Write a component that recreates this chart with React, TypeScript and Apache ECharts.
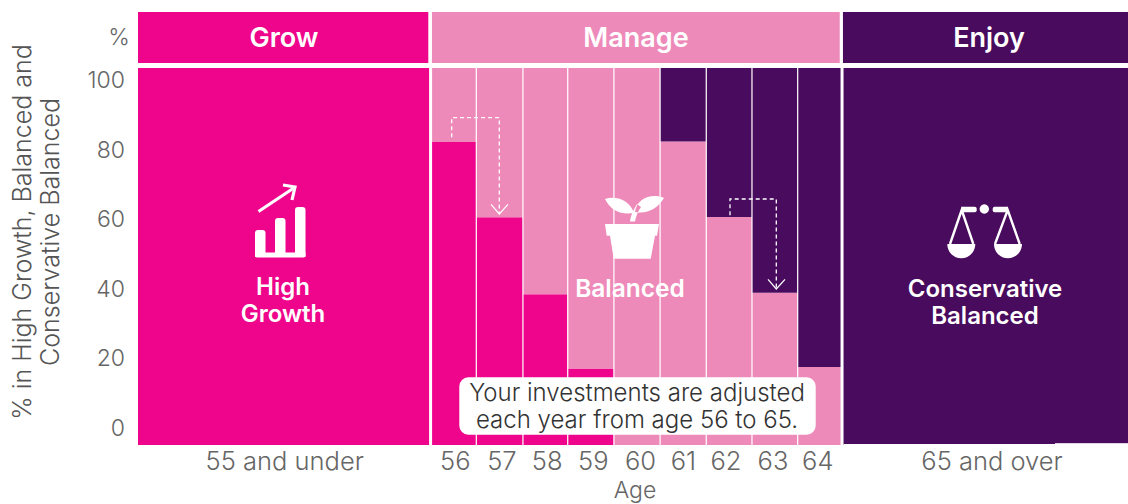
import React, { useEffect, useRef } from "react";
import * as echarts from "echarts";

const categories = ["55 and under", "56", "57", "58", "59", "60", "61", "62", "63", "64", "65 and over"];
const categoryEdges = [49.6, 56, 57, 58.02, 59, 60.01, 61.02, 62.03, 63.03, 64.03, 65, 71.255];
const highGrowth = [100, 80.4, 60.4, 40, 20.3, 0, 0, 0, 0, 0, 0];
const balanced = [0, 19.6, 39.6, 60, 79.7, 100, 80.5, 60.5, 40.4, 20.7, 0];
const conservativeBalanced = [0, 0, 0, 0, 0, 0, 19.5, 39.5, 59.6, 79.3, 100];
const labelCentres = [52.81, 56.54, 57.56, 58.55, 59.56, 60.59, 61.53, 62.46, 63.49, 64.47, 68.28];
const yTicks = [0, 20, 40, 60, 80, 100];
const phases = ["Grow", "Manage", "Enjoy"];
const phaseStarts = [49.6, 56.03, 65.02];
const phaseEnds = [55.95, 64.95, 71.255];

const MAGENTA = "#EE058B";
const PINK = "#EE8AB9";
const PURPLE = "#490B5D";
const GREY = "#666666";
const FONT = "Inter";

const leafPath =
  "M605 199 C617 195 630 201 634 213 C621 215 611 211 605 199 Z " +
  "M664 198 C652 193 637 198 635 212 C648 214 657 209 664 198 Z " +
  "M630 221.5 C631 214 634 209 637 204 L641 207 C638 211 636 216 635 221.5 Z";
const bowlPath =
  "M947.3 244 L975.3 244 C975.3 252 969 258.3 961.3 258.3 C953.6 258.3 947.3 252 947.3 244 Z " +
  "M994 244 L1022 244 C1022 252 1015.7 258.3 1008 258.3 C1000.3 258.3 994 252 994 244 Z";
echarts.graphic.registerShape("leaves", echarts.graphic.extendPath(leafPath, {}));
echarts.graphic.registerShape("bowls", echarts.graphic.extendPath(bowlPath, {}));

function stackSeries(name: string, values: number[], below: number[], color: string) {
  return {
    name,
    type: "custom",
    xAxisIndex: 0,
    yAxisIndex: 0,
    z: 2,
    silent: true,
    data: categories.map((_, i) => [categoryEdges[i], categoryEdges[i + 1], below[i], below[i] + values[i]]),
    encode: { x: [0, 1], y: [2, 3] },
    renderItem: (_: any, api: any) => {
      const a = api.coord([api.value(0), api.value(3)]);
      const b = api.coord([api.value(1), api.value(2)]);
      return { type: "rect", shape: { x: a[0], y: a[1], width: b[0] - a[0], height: b[1] - a[1] }, style: { fill: color } };
    },
  };
}

const zeros = categories.map(() => 0);
const afterGrowth = highGrowth.map((v, i) => v + balanced[i]);

const separatorSeries = {
  type: "custom",
  xAxisIndex: 0,
  yAxisIndex: 0,
  z: 3,
  silent: true,
  data: categoryEdges.slice(1, -1).map((e, i, all) => [e, i === 0 || i === all.length - 1 ? 3 : 1.2]),
  encode: { x: 0 },
  renderItem: (_: any, api: any) => {
    const t = api.coord([api.value(0), 100]);
    const b = api.coord([api.value(0), 0]);
    return { type: "line", shape: { x1: t[0], y1: t[1], x2: b[0], y2: b[1] }, style: { stroke: "#ffffff", lineWidth: api.value(1) } };
  },
};

const phaseSeries = {
  type: "custom",
  xAxisIndex: 2,
  yAxisIndex: 2,
  silent: true,
  data: phases.map((_, i) => [phaseStarts[i], phaseEnds[i], i]),
  encode: { x: [0, 1] },
  renderItem: (_: any, api: any) => {
    const i = api.value(2);
    const a = api.coord([api.value(0), 1]);
    const b = api.coord([api.value(1), 0]);
    const colors = [MAGENTA, PINK, PURPLE];
    const mids = [284, 636, 989];
    return {
      type: "group",
      children: [
        { type: "rect", shape: { x: a[0], y: a[1], width: b[0] - a[0], height: b[1] - a[1] }, style: { fill: colors[i] } },
        {
          type: "text",
          x: mids[i],
          y: (a[1] + b[1]) / 2,
          style: { text: phases[i], fill: "#ffffff", fontFamily: FONT, fontWeight: 600, fontSize: 27, align: "center", verticalAlign: "middle" },
        },
      ],
    };
  },
};

const label = (text: string, x: number, y: number, fontSize: number, lineHeight: number, fill = "#ffffff", fontWeight = 600, rotation = 0) => ({
  type: "text",
  z: 30,
  x,
  y,
  rotation,
  style: { text, fill, fontFamily: FONT, fontSize, fontWeight, lineHeight, align: "center", verticalAlign: "middle" },
});
const rrect = (x: number, y: number, width: number, height: number, r: any = 0, fill = "#ffffff", z = 20) => ({
  type: "rect",
  z,
  shape: { x, y, width, height, r },
  style: { fill },
});
const stroke = (points: number[][], lineWidth: number, lineDash?: number[], opacity = 1) => ({
  type: "polyline",
  z: 20,
  shape: { points },
  style: { stroke: "#ffffff", fill: "none", lineWidth, lineDash, opacity },
});
const poly = (points: number[][]) => ({ type: "polygon", z: 20, shape: { points }, style: { fill: "#ffffff" } });

const graphics = [
  label("%", 119, 37, 23, 26, GREY, 300),
  label("% in High Growth, Balanced and\nConservative Balanced", 36, 232, 25, 28, "#555555", 300, Math.PI / 2),

  // growth icon
  rrect(255, 230, 10.5, 27, [3, 3, 0, 0]),
  rrect(275, 218, 10.5, 39, [3, 3, 0, 0]),
  rrect(295, 207, 10.5, 50, [3, 3, 0, 0]),
  rrect(255, 252.5, 50.5, 5, [0, 0, 2, 2]),
  stroke([[258.5, 211.5], [293, 188.5]], 3.2),
  stroke([[283, 185], [295, 187], [292, 200]], 3.2),
  label("High\nGrowth", 283, 300, 24, 27),

  // plant icon
  { type: "leaves", z: 20, style: { fill: "#ffffff" } },
  poly([[605, 224], [659, 224], [657, 235.7], [655, 235.7], [650.7, 258.7], [613.7, 258.7], [610, 235.7], [606.7, 235.7]]),
  label("Balanced", 630, 288, 24.5, 26),

  // scales icon
  { type: "circle", z: 20, shape: { cx: 984.3, cy: 209, r: 4.7 }, style: { fill: "#ffffff" } },
  rrect(961.7, 206.7, 15, 5.6, [0, 2, 2, 0]),
  rrect(992.7, 206.7, 15.3, 5.6, [2, 0, 0, 2]),
  stroke([[950, 244], [961.7, 210], [973.3, 244]], 2.4),
  stroke([[995, 244], [1007.7, 210], [1019.7, 244]], 2.4),
  { type: "bowls", z: 20, style: { fill: "#ffffff" } },
  label("Conservative\nBalanced", 985, 302, 24, 27),

  // dashed arrows
  stroke([[451.7, 137.3], [451.7, 117.7], [499.3, 117.7], [499.3, 213]], 1.3, [4, 3]),
  stroke([[491, 204.3], [499.3, 214], [508, 204.3]], 1.2),
  stroke([[730, 215.3], [730, 199], [776.3, 199], [776.3, 288]], 1.3, [4, 3]),
  stroke([[768, 279.3], [776.3, 289], [785, 279.3]], 1.2),

  // note
  rrect(459.3, 377.3, 356.4, 57.4, 9, "#ffffff", 25),
  label("Your investments are adjusted\neach year from age 56 to 65.", 637, 406, 24, 27, "#333333", 300),

  // the last band stops a pixel short of the baseline
  rrect(843.5, 444, 284.5, 1.2, 0, "#ffffff", 20),
  rrect(1055, 443, 73, 1, 0, "#E4D3E8", 20),
];

export default function App() {
  const ref = useRef<HTMLDivElement>(null);
  useEffect(() => {
    const chart = echarts.init(ref.current!, undefined, { renderer: "svg" });
    const hiddenX = { type: "value", min: categoryEdges[0], max: categoryEdges[categoryEdges.length - 1], show: false };
    const gridBase = { left: 138, right: 0, outerBoundsMode: "none", containLabel: false };
    chart.setOption({
      animation: false,
      grid: [
        { ...gridBase, top: 68, height: 377 },
        { ...gridBase, top: 80, height: 348 },
        { ...gridBase, top: 12, height: 51 },
      ],
      xAxis: [
        {
          type: "value",
          gridIndex: 0,
          min: categoryEdges[0],
          max: categoryEdges[categoryEdges.length - 1],
          splitLine: { show: false },
          axisLine: { show: false },
          axisTick: { show: false },
          axisLabel: {
            customValues: labelCentres,
            formatter: (v: number) => categories[labelCentres.indexOf(v)] ?? "",
            color: GREY,
            fontFamily: FONT,
            fontWeight: 300,
            fontSize: 25.5,
            margin: 2,
          },
          name: "Age",
          nameLocation: "middle",
          nameGap: 33,
          nameTextStyle: { color: GREY, fontFamily: FONT, fontWeight: 300, fontSize: 23, padding: [0, 0, 0, 4] },
        },
        { ...hiddenX, gridIndex: 1 },
        { ...hiddenX, gridIndex: 2 },
      ],
      yAxis: [
        { type: "value", gridIndex: 0, min: 0, max: 100, show: false },
        {
          type: "value",
          gridIndex: 1,
          min: 0,
          max: 100,
          interval: 20,
          splitLine: { show: false },
          axisLine: { show: false },
          axisTick: { show: false },
          axisLabel: {
            customValues: yTicks,
            color: GREY,
            fontFamily: FONT,
            fontWeight: 300,
            fontSize: 23,
            margin: 13,
          },
        },
        { type: "value", gridIndex: 2, min: 0, max: 1, show: false },
      ],
      series: [
        stackSeries("High Growth", highGrowth, zeros, MAGENTA),
        stackSeries("Balanced", balanced, highGrowth, PINK),
        stackSeries("Conservative Balanced", conservativeBalanced, afterGrowth, PURPLE),
        separatorSeries,
        phaseSeries,
      ],
      graphic: { elements: graphics },
    });
    return () => chart.dispose();
  }, []);
  return <div ref={ref} style={{ position: "absolute", left: 0, top: 0, width: 1128, height: 504 }} />;
}
